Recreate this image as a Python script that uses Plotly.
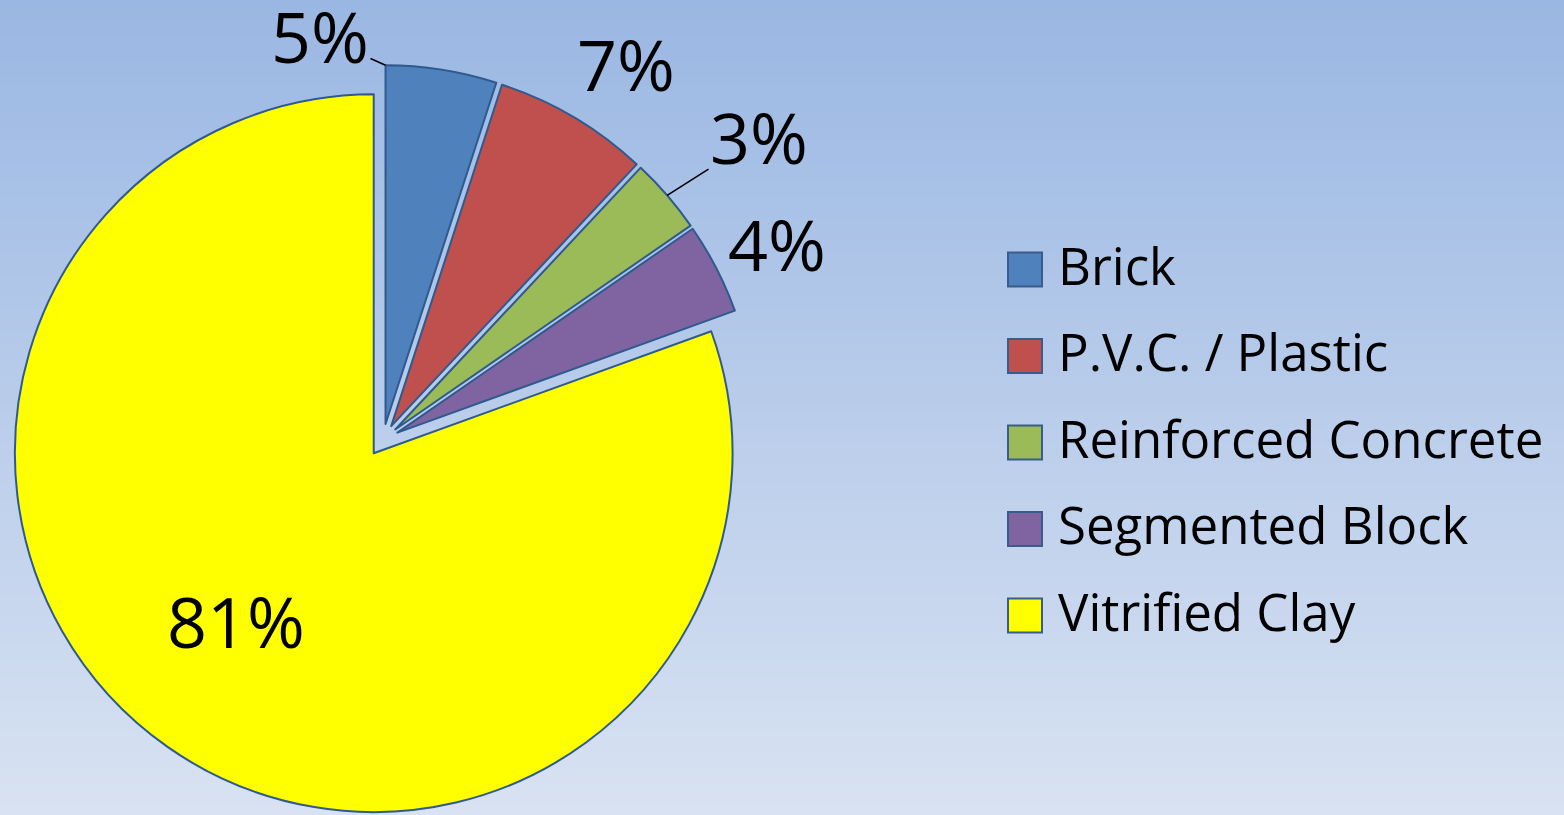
import math
import plotly.graph_objects as go

# ---- data ----
labels = ["Brick", "P.V.C. / Plastic", "Reinforced Concrete", "Segmented Block", "Vitrified Clay"]
values = [5.0, 7.0, 3.4, 4.1, 80.6]
colors = ["#4F81BD", "#C0504D", "#9BBB59", "#8064A2", "#FFFF00"]

# ---- layout constants ----
W, H = 1564, 815
M_TOP = 65
PLOT_H = H - M_TOP
FONT = "Open Sans"
PULL = 0.045
DOM_X = [3, 763]          # pie domain, pixels
PCT_SIZE = 70
LEG_SIZE = 51

# label placement (pixel centres of the percentage texts) and leader-line anchors
label_xy = [(320, 39), (626, 67), (759, 140), (777, 247), (236, 624)]
leader = ["start", None, "mid", None, None]   # where a leader line points on the slice


def px_to_paper(x, y):
    return x / W, (H - y) / PLOT_H


fig = go.Figure()
fig.add_trace(go.Pie(
    labels=labels,
    values=values,
    sort=False,
    direction="clockwise",
    rotation=0,
    pull=[PULL] * len(values),
    marker=dict(colors=colors, line=dict(color="#2E5A8E", width=2)),
    textinfo="none",
    hoverinfo="label+percent",
    showlegend=False,
    automargin=False,
    domain=dict(x=[DOM_X[0] / W, DOM_X[1] / W], y=[0, 1]),
))

# pie geometry as plotly computes it (for leader-line anchors)
cx = (DOM_X[0] + DOM_X[1]) / 2
cy = M_TOP + PLOT_H / 2
r = min((DOM_X[1] - DOM_X[0]) / 2, PLOT_H / 2) / (1 + PULL)
total = sum(values)

annotations = []
cum = 0.0
for i, v in enumerate(values):
    a0 = cum / total * 360
    a1 = (cum + v) / total * 360
    cum += v
    am = math.radians((a0 + a1) / 2)
    ox, oy = cx + PULL * r * math.sin(am), cy - PULL * r * math.cos(am)
    pct = "%d%%" % round(v / total * 100)
    tx, ty = label_xy[i]
    ty_anchor = ty - 3   # text box centre sits a little below the digit centre
    if leader[i]:
        ang = math.radians(a0) if leader[i] == "start" else am
        px, py = ox + r * math.sin(ang), oy - r * math.cos(ang)
        xp, yp = px_to_paper(px, py)
        annotations.append(dict(
            xref="paper", yref="paper", x=xp, y=yp,
            ax=tx - px, ay=ty_anchor - py,
            text=pct, showarrow=True, arrowhead=0, arrowwidth=1.6, arrowcolor="black",
            font=dict(family=FONT, size=PCT_SIZE, color="black")))
    else:
        xp, yp = px_to_paper(tx, ty_anchor)
        annotations.append(dict(
            xref="paper", yref="paper", x=xp, y=yp, showarrow=False,
            xanchor="center", yanchor="middle", text=pct,
            font=dict(family=FONT, size=PCT_SIZE, color="black")))

# ---- background vertical gradient ----
top_rgb = (154, 183, 227)
bot_rgb = (216, 226, 242)
n_strips = 160
shapes = []
y_top_paper = H / PLOT_H
for i in range(n_strips):
    t = i / (n_strips - 1)
    c = tuple(round(top_rgb[k] + (bot_rgb[k] - top_rgb[k]) * t) for k in range(3))
    y1 = y_top_paper - y_top_paper * i / n_strips
    y0 = y_top_paper - y_top_paper * (i + 1) / n_strips
    shapes.append(dict(type="rect", xref="paper", yref="paper", x0=0, x1=1,
                       y0=y0 - 0.001, y1=y1 + 0.001, layer="below",
                       line=dict(width=0), fillcolor="rgb(%d,%d,%d)" % c))

# ---- legend (built from labels / colors) ----
LEG_SQ_X0, LEG_SQ_X1 = 1008, 1042
LEG_TXT_X = 1056
LEG_Y0, LEG_DY, LEG_SQ = 269.5, 86.5, 34
for i, (lab, col) in enumerate(zip(labels, colors)):
    ly = LEG_Y0 + i * LEG_DY
    shapes.append(dict(type="rect", xref="paper", yref="paper",
                       x0=LEG_SQ_X0 / W, x1=LEG_SQ_X1 / W,
                       y0=(H - (ly + LEG_SQ / 2)) / PLOT_H,
                       y1=(H - (ly - LEG_SQ / 2)) / PLOT_H,
                       fillcolor=col, line=dict(color="#385D8A", width=2), layer="above"))
    xp, yp = px_to_paper(LEG_TXT_X, ly - 5)
    annotations.append(dict(xref="paper", yref="paper", x=xp, y=yp,
                            text=lab, showarrow=False,
                            xanchor="left", yanchor="middle",
                            font=dict(family=FONT, size=LEG_SIZE, color="black")))

fig.update_layout(
    width=W, height=H,
    autosize=False,
    margin=dict(l=0, r=0, t=M_TOP, b=0, pad=0, autoexpand=False),
    paper_bgcolor="#B8CAEA",
    plot_bgcolor="rgba(0,0,0,0)",
    showlegend=False,
    shapes=shapes,
    annotations=annotations,
    font=dict(family=FONT),
)

fig.write_html(
    "out.html",
    config={"displayModeBar": False},
    post_script="document.body.style.margin='0';document.body.style.overflow='hidden';",
)
